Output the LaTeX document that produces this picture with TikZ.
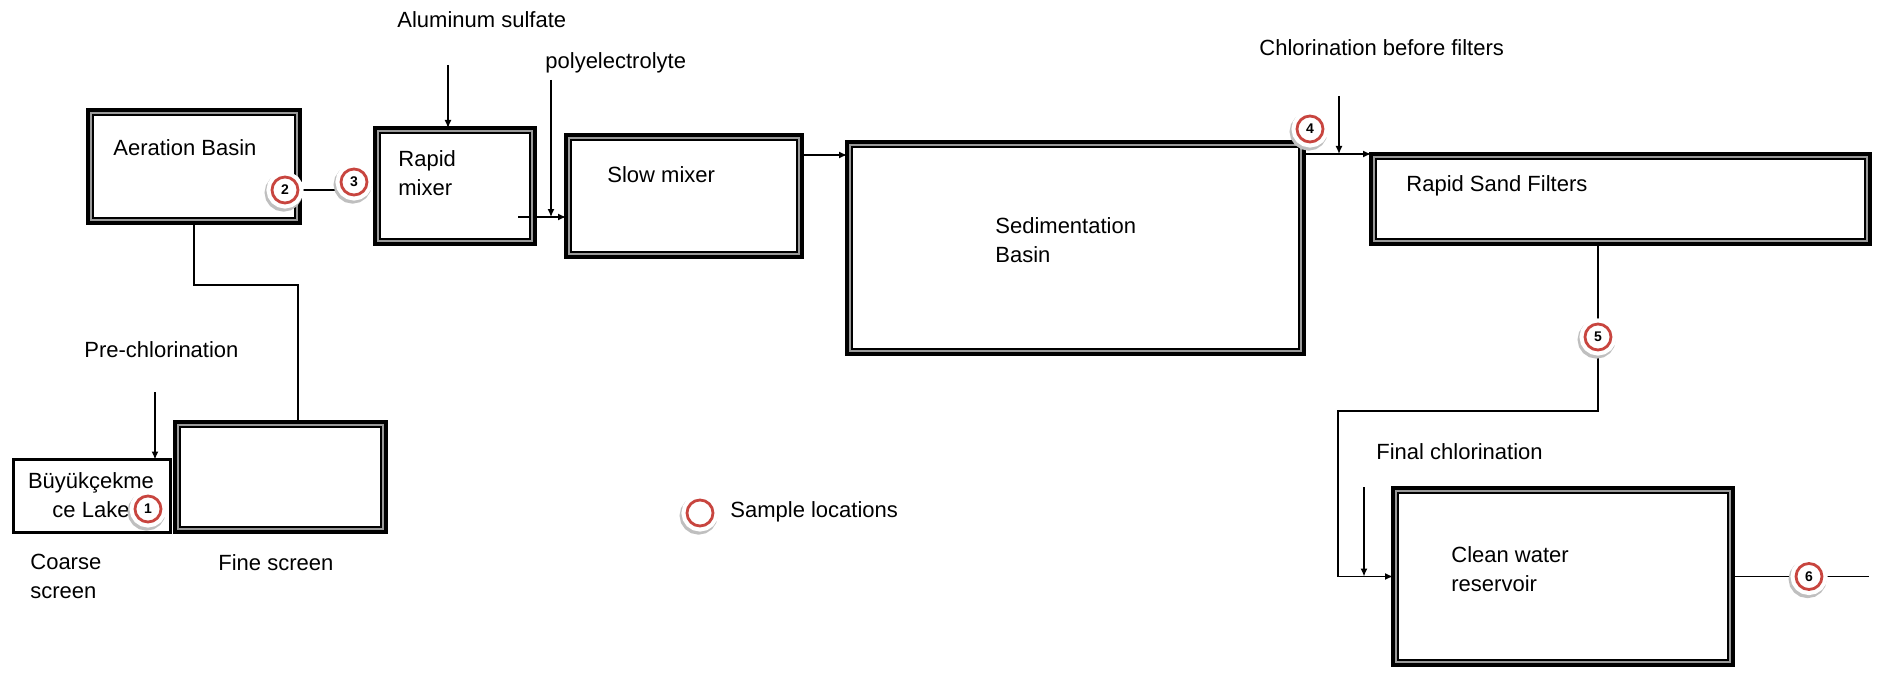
\documentclass[tikz,border=0pt]{standalone}
\usepackage{fontspec}
\setmainfont{Liberation Sans}
\usetikzlibrary{arrows.meta,backgrounds}
\definecolor{ringred}{HTML}{C8453F}
\definecolor{framegray}{HTML}{9A9A9A}

\begin{document}
\begin{tikzpicture}[
    x=0.5pt, y=-0.5pt,
    font=\fontsize{11}{14.5}\selectfont,
    tank/.style={draw, line width=2.3pt, inner sep=0pt, outer sep=0pt},
    lbl/.style={anchor=west, inner sep=0pt, align=left},
    spot/.style={circle, draw=ringred, line width=1.4pt, fill=white, inner sep=0pt, minimum size=13pt,
                 font=\fontsize{7}{7}\selectfont\bfseries,
                 preaction={draw=black!25, line width=6pt, transform canvas={xshift=-0.7pt, yshift=-1.3pt}},
                 preaction={draw=white, line width=5.5pt}},
    flow/.style={line width=0.65pt},
    feed/.style={flow, -{Latex[length=4pt, width=3.5pt]}}]
  \useasboundingbox (0,0) rectangle (1885,674);
  % tanks
  \node[tank, minimum width=106pt, minimum height=56.5pt] (aer) at (194,166.5) {};
  \node[tank, minimum width=80pt, minimum height=58pt] (rapid) at (455,186) {};
  \node[tank, minimum width=118pt, minimum height=61pt] (slow) at (684,196) {};
  \node[tank, minimum width=228.5pt, minimum height=106pt] (sed) at (1075.5,248) {};
  \node[tank, minimum width=249.5pt, minimum height=45pt] (filt) at (1620.5,199) {};
  \node[tank, minimum width=170pt, minimum height=88.5pt] (res) at (1563,576.5) {};
  \node[tank, minimum width=105.5pt, minimum height=55pt] (fine) at (280.5,477) {};
  \node[draw, line width=1.6pt, inner sep=0pt, outer sep=0pt,
        minimum width=78.5pt, minimum height=36.5pt] (lake) at (92,496) {};
  \foreach \b in {aer,rapid,slow,sed,filt,res,fine}{
    \draw[framegray, line width=1pt] ([shift={(1.65pt,1.65pt)}]\b.south west) rectangle ([shift={(-1.65pt,-1.65pt)}]\b.north east);
    \draw[line width=0.65pt] ([shift={(2.5pt,2.5pt)}]\b.south west) rectangle ([shift={(-2.5pt,-2.5pt)}]\b.north east);
  }
  % texts
  \node[lbl] (tAer) at (113,148) {Aeration Basin};
  \node[lbl] (tRapid) at (398,173.5) {Rapid\\mixer};
  \node[lbl] (tSlow) at (607,175) {Slow mixer};
  \node[lbl] (tSed) at (995,240) {Sedimentation\\Basin};
  \node[lbl] (tFilt) at (1406,186) {Rapid Sand Filters};
  \node[lbl] (tRes) at (1451,569) {Clean water\\reservoir};
  \node[lbl, anchor=center, align=center] (tLake) at (91,495) {Büyükçekme\\ce Lake};
  \node[lbl] (tCoarse) at (30,576.5) {Coarse\\screen};
  \node[lbl] (tFine) at (218,563) {Fine screen};
  \node[lbl] (tPre) at (84,350) {Pre-chlorination};
  \node[lbl] (tAl) at (397,20) {Aluminum sulfate};
  \node[lbl] (tPoly) at (545,63) {polyelectrolyte};
  \node[lbl] (tChl) at (1259,48) {Chlorination before filters};
  \node[lbl] (tFin) at (1376,452) {Final chlorination};
  \node[lbl] (tKey) at (730,512) {Sample locations};
  % sample points
  \node[spot] (m1) at (148,509) {1};
  \node[spot] (m2) at (285,190) {2};
  \node[spot] (m3) at (354,182) {3};
  \node[spot] (m4) at (1310,129) {4};
  \node[spot] (m5) at (1598,337) {5};
  \node[spot] (m6) at (1809,576.5) {6};
  \node[spot] (key) at (700,513) {};
  % pipes
  \begin{scope}[on background layer]
    \coordinate (pc) at (155,392);
    \draw[feed] (pc) -- (pc |- lake.north);
    \coordinate (bend) at (298,285);
    \draw[flow] (aer.south) |- (bend) -- (bend |- fine.north);
    \draw[flow] (m2) -- (m2 -| m3.west);
    \coordinate (al) at (448,65);
    \draw[feed] (al) -- (al |- rapid.north);
    \coordinate (mixout) at (518,217);
    \coordinate (pe) at (551,80);
    \draw[feed] (pe) -- (pe |- mixout);
    \draw[feed] (mixout) -- (mixout -| slow.west);
    \draw[feed] ([yshift=20.5pt]slow.east) -- ([yshift=20.5pt]slow.east -| sed.west);
    \draw[feed] (filt.north west -| sed.east) -- (filt.north west);
    \coordinate (cb) at (1339,96);
    \draw[feed] (cb) -- (cb |- filt.north);
    \coordinate (turn) at (1338,411);
    \draw[feed] (filt.south -| m5) -- (m5) |- (turn) |- (res.west);
    \coordinate (fc) at (1364,487);
    \draw[feed] (fc) -- (fc |- res.west);
    \coordinate (out) at (1869,576.5);
    \draw[flow] (res.east) -- (m6) -- (out);
  \end{scope}
\end{tikzpicture}
\end{document}
